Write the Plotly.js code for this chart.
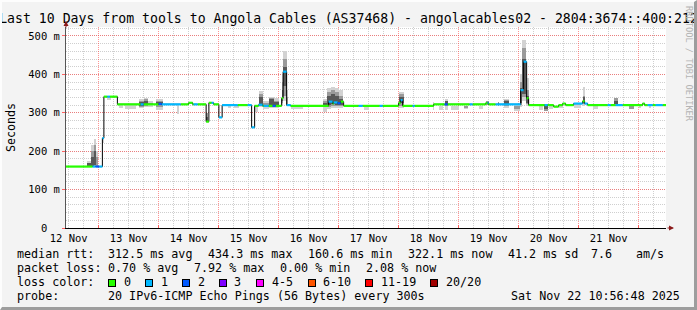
<!DOCTYPE html>
<html><head><meta charset="utf-8">
<script src="https://cdn.plot.ly/plotly-3.0.1.min.js"></script>
<style>
html,body{margin:0;padding:0;background:#f3f3f3;}
#wrap{position:relative;width:697px;height:310px;overflow:hidden;}
#chart{width:697px;height:310px;}
#frame{position:absolute;left:0;top:0;width:697px;height:310px;box-sizing:border-box;border-top:2px solid #fdfdfd;border-left:2px solid #fdfdfd;border-right:3px solid #9d9d9d;border-bottom:3px solid #9d9d9d;pointer-events:none;}
</style></head>
<body><div id="wrap"><div id="chart"></div><div id="frame"></div></div>
<script>
// ---------- DATA ----------
const titleText = 'Last 10 Days from tools to Angola Cables (AS37468) - angolacables02 - 2804:3674::400:212';
const startHour = 10.9467;   // 12 Nov 10:56:48
const endHour = 250.9467;    // 22 Nov 10:56:48
const yTickVals = [0, 100, 200, 300, 400, 500];
const yTickText = ['0\u00a0\u00a0', '100 m', '200 m', '300 m', '400 m', '500 m'];

// median rtt steps: start hour (after 12 Nov 00:00), median (ms), lost pings of 20
const segHour = [10.95,21.6,22.8,24.2,25.5,26.1,27.5,28.5,31.5,40.8,42.0,48.0,49.2,56.8,60.0,61.6,62.0,63.6,67.0,68.1,69.2,70.0,72.1,73.4,79.6,83.6,85.2,86.4,88.0,89.6,90.0,92.0,93.6,94.8,97.2,97.8,99.2,100.8,116.0,117.6,118.0,119.6,120.8,122.0,128.0,129.6,136.4,137.6,144.0,144.8,145.6,149.6,150.4,158.0,162.4,163.6,172.4,173.6,178.8,179.6,180.0,182.8,192.8,194.0,195.2,196.0,202.4,203.6,206.0,208.0,209.6,210.8,214.0,217.6,218.4,219.6,227.6,228.8,230.8,233.6,241.6,242.4,243.6,245.6,246.8,249.6];
const segMedian = [160,160,160,160,234,342,342,342,322,322,322,323,322,322,326,322,322,322,277,326,326,322,288,320,320,320,262,318,321,318,318,318,318,318,338,407,320,318,329,324,327,325,329,318,318,318,318,318,326,333,318,318,318,322,322,322,322,322,325,326,322,322,359,433,338,320,320,320,316,320,324,320,324,330,324,320,320,320,320,320,324,320,320,320,320,320];
const segLoss = [0,1,2,1,1,0,1,0,0,1,0,2,1,0,0,0,1,0,0,0,1,0,1,1,0,1,1,0,1,0,1,0,2,0,0,1,1,0,1,0,1,2,0,0,1,0,1,0,0,1,0,1,0,0,2,0,1,0,0,1,0,1,1,1,0,0,1,0,0,0,0,0,1,0,1,0,1,0,1,0,0,0,1,0,1,0];

// smoke (ping spread): time span in hours, outer / middle / core ranges (ms)
const smokeFrom = [19.2,20.8,22.0,22.8,25.5,27.2,32.0,34.4,40.0,42.0,43.6,46.8,55.2,66.8,75.6,78.0,86.4,88.0,89.6,92.0,94.0,97.2,97.8,99.2,100.8,113.6,115.2,116.8,118.4,120.0,130.0,144.0,157.6,160.0,162.4,164.8,170.0,176.0,178.8,183.6,186.0,190.0,192.4,193.2,194.8,200.0,202.0,204.0,208.0,214.0,217.6,221.6,230.0,236.0,240.0,244.0];
const smokeTo   = [20.8,22.0,22.8,23.6,26.1,28.8,33.6,38.8,42.0,43.6,45.6,49.6,56.0,67.6,76.8,80.0,87.6,89.6,92.0,94.0,96.0,97.8,99.2,99.6,105.6,115.2,116.8,118.4,120.0,121.6,132.0,146.0,158.0,161.6,163.6,168.0,171.6,177.6,180.0,184.0,188.0,192.4,193.2,194.8,196.0,201.6,203.6,205.6,209.6,217.0,218.4,223.6,231.6,238.0,241.0,245.0];
const outerLo = [158,158,158,158,222,333,312,310,312,315,316,308,298,null,312,313,303,315,310,312,312,320,330,318,310,303,310,312,312,312,308,312,307,308,307,308,310,310,null,null,312,305,315,330,318,308,null,310,312,312,318,310,null,null,312,313];
const outerHi = [175,215,232,200,234,342,322,322,335,338,330,335,322,null,320,320,318,358,330,342,338,400,460,360,318,335,365,368,365,360,318,355,329,318,335,318,318,318,null,null,335,320,400,490,390,320,null,320,320,322,368,320,null,null,320,320];
const midLo   = [null,160,162,160,null,null,null,null,316,318,320,316,null,277,null,null,null,318,316,316,316,325,345,320,null,316,316,318,318,318,null,318,null,null,318,null,312,null,320,318,318,310,320,340,322,null,305,null,null,null,322,null,322,310,null,null];
const midHi   = [null,200,215,185,null,null,null,null,330,335,326,330,null,300,null,null,null,350,325,338,332,380,440,340,null,330,355,360,355,345,null,348,null,null,332,null,318,null,330,328,333,318,380,470,360,null,322,null,null,null,345,null,338,320,null,null];
const coreLo  = [160,162,165,null,null,null,null,null,318,320,null,320,null,277,null,null,null,320,null,320,318,330,370,null,null,318,320,322,320,320,null,325,null,null,322,null,null,null,null,320,320,null,325,350,325,null,310,null,null,null,325,null,324,null,null,null];
const coreHi  = [168,185,200,null,null,null,null,null,328,332,null,328,null,290,null,null,null,340,null,335,328,360,420,null,null,326,345,350,345,335,null,342,null,null,330,null,null,null,null,326,330,null,365,440,345,null,320,null,null,null,340,null,332,null,null,null];

// loss colour legend
const lossLabels = ['0','1','2','3','4-5','6-10','11-19','20/20'];
const lossColors = ['#26ff00','#00b8ff','#0059ff','#7e00ff','#ff00ff','#ff5500','#ff0000','#a10000'];

// statistics text
const statRtt  = ['median rtt:','312.5 ms avg','434.3 ms max','160.6 ms min','322.1 ms now','41.2 ms sd','7.6','am/s'];
const statLoss = ['packet loss:','0.70 % avg','7.92 % max','0.00 % min','2.08 % now'];
const probeText = ['probe:','20 IPv6-ICMP Echo Pings (56 Bytes) every 300s','Sat Nov 22 10:56:48 2025'];

// ---------- BUILD ----------
const base = Date.UTC(2025, 10, 12, 0, 0, 0);
function toDate(h){ return new Date(base + h*3600000).toISOString().replace('T',' ').slice(0,19); }
function bucket(l){ if(l<=3) return l; if(l<=5) return 4; if(l<=10) return 5; if(l<=19) return 6; return 7; }

const W = 697, H = 310, ML = 66, MR = 31, MT = 27, MB = 82;
const PW = W-ML-MR, PH = H-MT-MB;
const px = x => (x-ML)/PW;
const py = y => (H-MB-y)/PH;
const FONT = 'DejaVu Sans Mono';

const traces = [];
function smokeLayer(lo, hi, color){
  const x=[], y=[], b=[], w=[];
  for(let i=0;i<smokeFrom.length;i++){
    if(lo[i]==null || hi[i]==null) continue;
    x.push(toDate((smokeFrom[i]+smokeTo[i])/2));
    b.push(lo[i]); y.push(hi[i]-lo[i]);
    w.push((smokeTo[i]-smokeFrom[i])*3600000);
  }
  traces.push({type:'bar', x, y, base:b, width:w, marker:{color, line:{width:0}}, showlegend:false, hoverinfo:'skip'});
}
smokeLayer(outerLo, outerHi, '#d2d2d2');
smokeLayer(midLo, midHi, '#9a9a9a');
smokeLayer(coreLo, coreHi, '#585858');

// thin dark median line (steps)
const lx = segHour.map(toDate).concat([toDate(endHour)]);
const ly = segMedian.concat([segMedian[segMedian.length-1]]);
traces.push({type:'scatter', mode:'lines', x:lx, y:ly, line:{shape:'hv', color:'#000000', width:1}, showlegend:false, hoverinfo:'skip'});

// coloured median by loss bucket
for(let k=0;k<lossColors.length;k++){
  const x=[], y=[];
  for(let i=0;i<segHour.length;i++){
    if(bucket(segLoss[i])!==k) continue;
    const e = i+1<segHour.length ? segHour[i+1] : endHour;
    x.push(toDate(segHour[i]), toDate(e), null);
    y.push(segMedian[i], segMedian[i], null);
  }
  if(x.length) traces.push({type:'scatter', mode:'lines', x, y, line:{color:lossColors[k], width:2.2}, connectgaps:false, showlegend:false, hoverinfo:'skip'});
}

const ann = [];
function txt(t, x, y, anchor){ ann.push({text:t, xref:'paper', yref:'paper', x:px(x), y:py(y), xanchor:anchor||'left', yanchor:'middle', showarrow:false, borderpad:0, font:{family:FONT, size:11.7, color:'#000'}}); }
const rttX = [16, 106.5, 206.5, 306.5, 406.5, 506.5, 590, 635];
statRtt.forEach((t,i)=>txt(t, rttX[i], 254.3));
const lossX = [16, 107, 193, 279, 364.5];
statLoss.forEach((t,i)=>txt(t, lossX[i], 268.3));
txt('loss color:', 16, 282.3);
const boxX = [108, 145, 182, 219, 256, 307.5, 365, 430];
const labX = [122.5, 159.5, 196.5, 233, 270.5, 321.5, 379.5, 444.5];
lossLabels.forEach((t,i)=>{
  ann.push({text:' ', xref:'paper', yref:'paper', x:px(boxX[i]), y:py(282.5), xanchor:'left', yanchor:'middle', showarrow:false,
    width:6, height:6, bgcolor:lossColors[i], bordercolor:'#000', borderwidth:1, borderpad:0, font:{size:4}});
  txt(t, labX[i], 282.3);
});
txt(probeText[0], 16, 296);
txt(probeText[1], 107, 296);
txt(probeText[2], 680.5, 296, 'right');

// side credit
ann.push({text:'RRDTOOL / TOBI OETIKER', xref:'paper', yref:'paper', x:px(689), y:py(4), xanchor:'center', yanchor:'top', textangle:90, showarrow:false, font:{family:FONT, size:8.7, color:'#b4b4b4'}});
// axis arrows
ann.push({text:'', xref:'paper', yref:'paper', x:px(674), y:0, ax:-8, ay:0, showarrow:true, arrowhead:2, arrowsize:1, arrowwidth:1, arrowcolor:'#8a1a1a'});
ann.push({text:'', xref:'paper', yref:'paper', x:0, y:py(21), ax:0, ay:8, showarrow:true, arrowhead:2, arrowsize:1, arrowwidth:1, arrowcolor:'#8a1a1a'});

const layout = {
  width:W, height:H, margin:{l:ML, r:MR, t:MT, b:MB, pad:0},
  paper_bgcolor:'#f3f3f3', plot_bgcolor:'#ffffff',
  font:{family:FONT, size:10.5, color:'#000'},
  title:{text:titleText, font:{family:FONT, size:13.2, color:'#000'}, x:0.5, xref:'container', xanchor:'center', y:1-18/H, yref:'container', yanchor:'middle'},
  showlegend:false, barmode:'overlay', bargap:0, hovermode:false,
  xaxis:{type:'date', range:[toDate(startHour), toDate(endHour)], tick0:'2025-11-12', dtick:86400000, tickformat:'%d %b', ticklabelmode:'period',
    showgrid:true, gridcolor:'rgba(255,60,60,0.55)', griddash:'1px,1px', gridwidth:1,
    minor:{dtick:6*3600000, showgrid:true, gridcolor:'#cfcfcf', griddash:'1px,1px', ticks:''},
    showline:true, linecolor:'#000', linewidth:1, ticks:'inside', ticklen:3, tickcolor:'#ff6060', zeroline:false,
    tickfont:{family:FONT, size:10.5, color:'#000'}, fixedrange:true},
  yaxis:{range:[0, 523.4], tickmode:'array', tickvals:yTickVals, ticktext:yTickText,
    showgrid:true, gridcolor:'rgba(255,60,60,0.55)', griddash:'1px,1px', gridwidth:1,
    minor:{tickmode:'linear', tick0:0, dtick:20, showgrid:true, gridcolor:'#cfcfcf', griddash:'1px,1px', ticks:''},
    showline:true, linecolor:'#555', linewidth:1, ticks:'outside', ticklen:3, tickcolor:'#ff6060', zeroline:false,
    tickfont:{family:FONT, size:10.5, color:'#000'},
    title:{text:'Seconds', font:{family:FONT, size:11.7, color:'#000'}, standoff:10}, fixedrange:true},
  annotations:ann
};
Plotly.newPlot('chart', traces, layout, {staticPlot:true, displayModeBar:false});
</script></body></html>
